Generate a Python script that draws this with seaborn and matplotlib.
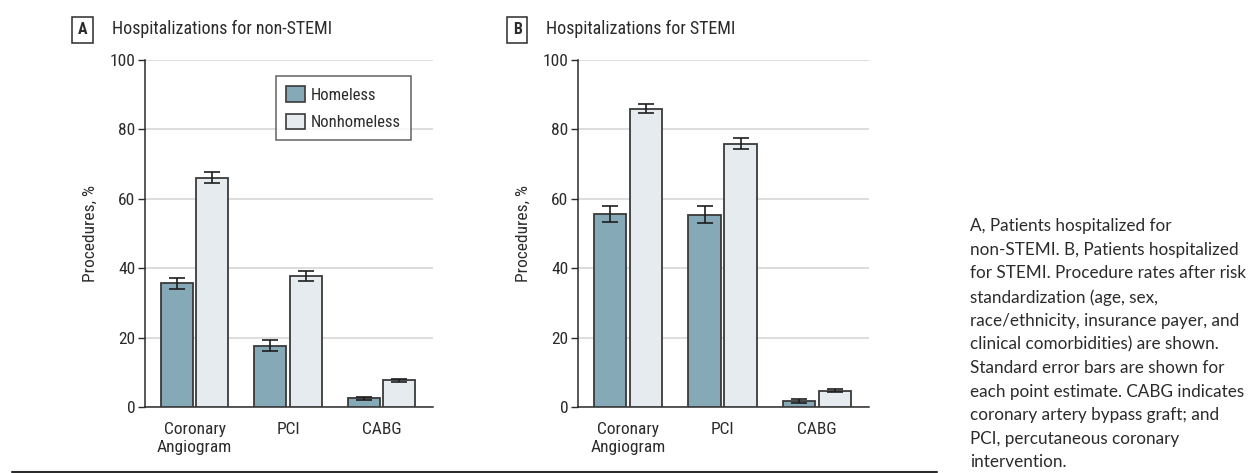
import matplotlib
matplotlib.use("Agg")
import matplotlib.pyplot as plt
from matplotlib import font_manager
from matplotlib.lines import Line2D
import seaborn as sns
import pandas as pd

# Procedure rates (%) and standard errors
procedures = ["Coronary\nAngiogram", "PCI", "CABG"]
groups = ["Homeless", "Nonhomeless"]

nstemi_homeless = [35.6, 17.7, 2.5]
nstemi_nonhomeless = [66.1, 37.7, 7.7]
nstemi_homeless_se = [1.6, 1.5, 0.4]
nstemi_nonhomeless_se = [1.6, 1.4, 0.5]

stemi_homeless = [55.6, 55.4, 1.7]
stemi_nonhomeless = [86.0, 75.9, 4.7]
stemi_homeless_se = [2.4, 2.5, 0.5]
stemi_nonhomeless_se = [1.3, 1.6, 0.4]

panel_letters = ["A", "B"]
panel_titles = ["Hospitalizations for non-STEMI", "Hospitalizations for STEMI"]
y_ticks = [0, 20, 40, 60, 80, 100]
y_label = "Procedures, %"
caption = ("A, Patients hospitalized for\n"
           "non-STEMI. B, Patients hospitalized\n"
           "for STEMI. Procedure rates after risk\n"
           "standardization (age, sex,\n"
           "race/ethnicity, insurance payer, and\n"
           "clinical comorbidities) are shown.\n"
           "Standard error bars are shown for\n"
           "each point estimate. CABG indicates\n"
           "coronary artery bypass graft; and\n"
           "PCI, percutaneous coronary\n"
           "intervention.")

bar_colors = ["#86a9b8", "#e6ebef"]
edge_color = "#3a3a3a"
text_color = "#2b2b2b"

sns.set_theme(style="white")
available = {f.name for f in font_manager.fontManager.ttflist}


def first_font(candidates):
    for name in candidates:
        if name in available:
            return name
    return "DejaVu Sans"


narrow = first_font(["Roboto Condensed", "Fira Sans Condensed", "IBM Plex Sans Condensed",
                     "Open Sans Condensed", "PT Sans Narrow", "Archivo Narrow",
                     "Liberation Sans Narrow", "Liberation Sans"])
body = first_font(["Lato", "Open Sans", "Noto Sans"])
plt.rcParams["font.family"] = [narrow, "DejaVu Sans"]


def make_frame(homeless, nonhomeless):
    return pd.DataFrame({
        "procedure": procedures * 2,
        "group": [groups[0]] * len(procedures) + [groups[1]] * len(procedures),
        "rate": list(homeless) + list(nonhomeless),
    })


fig = plt.figure(figsize=(12.48, 4.73), dpi=100)
W, H = 1248, 473

panels = [
    (make_frame(nstemi_homeless, nstemi_nonhomeless), [nstemi_homeless_se, nstemi_nonhomeless_se]),
    (make_frame(stemi_homeless, stemi_nonhomeless), [stemi_homeless_se, stemi_nonhomeless_se]),
]
axes_px = [(145, 433), (578, 869)]
title_px = [(78, 112), (513, 546)]
ax_top, ax_bottom = 60, 407

for i, ((df, ses), (x0, x1)) in enumerate(zip(panels, axes_px)):
    ax = fig.add_axes([x0 / W, (H - ax_bottom) / H, (x1 - x0) / W, (ax_bottom - ax_top) / H])
    sns.barplot(data=df, x="procedure", y="rate", hue="group", hue_order=groups,
                palette=bar_colors, saturation=1, edgecolor=edge_color, linewidth=1.3,
                width=0.76, gap=0.1, ax=ax, legend=(i == 0), zorder=3)
    for cont, se in zip(ax.containers, ses):
        xs = [p.get_x() + p.get_width() / 2 for p in cont]
        hs = [p.get_height() for p in cont]
        ax.errorbar(xs, hs, yerr=se, fmt="none", ecolor="#1e1e1e",
                    elinewidth=1.2, capsize=5.5, capthick=1.2, zorder=4)

    ax.set_ylim(0, 100)
    ax.set_xlim(-0.53, 2.55)
    ax.set_yticks(y_ticks)
    ax.yaxis.grid(True, color="#dadada", linewidth=1.3, zorder=0)
    ax.set_axisbelow(True)
    for s in ["top", "right"]:
        ax.spines[s].set_visible(False)
    ax.spines["left"].set_color(text_color)
    ax.spines["bottom"].set_color(text_color)
    ax.spines["left"].set_linewidth(1.1)
    ax.spines["bottom"].set_linewidth(1.1)
    ax.tick_params(axis="y", left=True, length=5, width=1.0, color=text_color,
                   labelsize=12.5, labelcolor=text_color, pad=2)
    ax.tick_params(axis="x", bottom=False, labelsize=12.5, labelcolor=text_color, pad=5)
    ax.set_xlabel("")
    ax.set_ylabel(y_label, fontsize=12.5, color=text_color, labelpad=8)

    if i == 0:
        ax.get_legend().remove()
        handles = [plt.Rectangle((0, 0), 1, 1, facecolor=c, edgecolor=edge_color, linewidth=1.2)
                   for c in bar_colors]
        ax.legend(handles, groups, loc="upper left",
                  bbox_to_anchor=((276 - x0) / (x1 - x0), (ax_bottom - 76) / (ax_bottom - ax_top)),
                  frameon=True, fancybox=False, edgecolor=edge_color, fontsize=12,
                  handlelength=1.14, handleheight=1.08, handletextpad=0.35,
                  labelspacing=0.66, borderpad=0.6, borderaxespad=0,
                  labelcolor=text_color)
        ax.get_legend().get_frame().set_linewidth(1.1)

    bx, tx = title_px[i]
    fig.text(bx / W, 1 - 30 / H, panel_letters[i], fontsize=11.5, fontweight="bold",
             color=text_color, va="center", ha="left",
             bbox=dict(boxstyle="square,pad=0.35", facecolor="white",
                       edgecolor=text_color, linewidth=1.1))
    fig.text(tx / W, 1 - 29 / H, panel_titles[i], fontsize=13, color=text_color,
             va="center", ha="left")

fig.add_artist(Line2D([12 / W, 937 / W], [1.5 / H, 1.5 / H], color="#2b2b2b",
                      linewidth=1.5, transform=fig.transFigure))

fig.text(970 / W, 1 - 218 / H, caption, family=[body, "DejaVu Sans"], fontsize=12.3,
         color=text_color, va="top", ha="left", linespacing=1.58)

fig.savefig("out.png", dpi=100)
